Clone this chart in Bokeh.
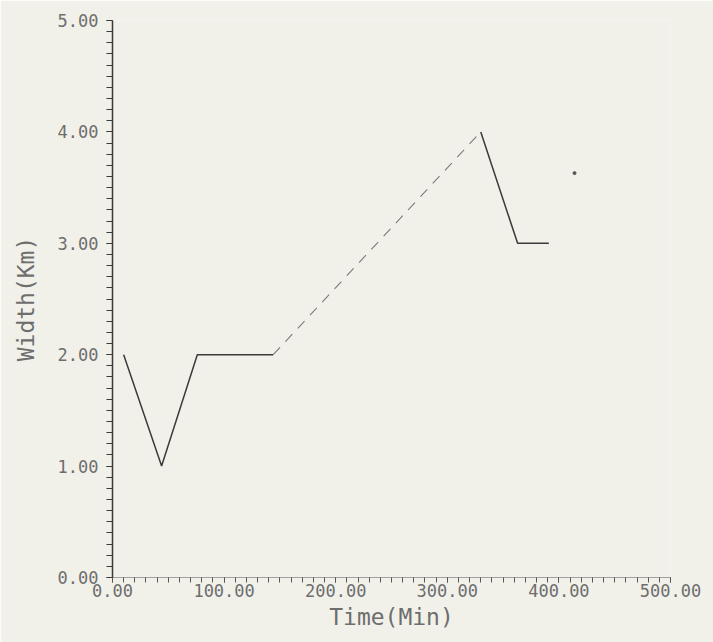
from bokeh.plotting import figure
from bokeh.models import SingleIntervalTicker, PrintfTickFormatter, Range1d
from bokeh.embed import file_html
from bokeh.resources import INLINE

# Channel width over time
time_min = [10, 44, 76, 144, 330, 363, 391]
width_km = [2.0, 1.0, 2.0, 2.0, 4.0, 3.0, 3.0]

# Isolated point
extra_time = [414]
extra_width = [3.63]

BG = "#f1f1ea"
INK = "#3a3a3a"
LABEL = "#6e6e6e"
FONT = "DejaVu Sans Mono"

p = figure(
    width=713, height=642,
    x_range=Range1d(0, 500), y_range=Range1d(0, 5),
    output_backend="svg", toolbar_location=None,
    min_border_left=112, min_border_right=43,
    min_border_top=20, min_border_bottom=65,
    background_fill_color=BG, border_fill_color=BG,
)
p.outline_line_color = None
p.grid.visible = False

# Solid early segment, faint dashed rise, solid later segment
p.line(time_min[:4], width_km[:4], line_color=INK, line_width=1.5)
p.line(time_min[3:5], width_km[3:5], line_color="#7a7a7a", line_width=1.1, line_dash="10 8")
p.line(time_min[4:], width_km[4:], line_color=INK, line_width=1.5)
p.scatter(extra_time, extra_width, size=3, color="#555555")

# Axes
p.xaxis.ticker = SingleIntervalTicker(interval=100, num_minor_ticks=10)
p.yaxis.ticker = SingleIntervalTicker(interval=1, num_minor_ticks=10)
p.xaxis.formatter = PrintfTickFormatter(format="%.2f")
p.yaxis.formatter = PrintfTickFormatter(format="%.2f")

for ax in (p.xaxis[0], p.yaxis[0]):
    ax.major_tick_in = 0
    ax.minor_tick_in = 0
    ax.major_label_text_font = FONT
    ax.major_label_text_font_size = "17px"
    ax.major_label_text_color = LABEL
    ax.axis_label_text_font = FONT
    ax.axis_label_text_font_style = "normal"
    ax.axis_label_text_color = LABEL
    ax.axis_label_text_font_size = "23px"

p.yaxis.major_tick_out = 6
p.yaxis.minor_tick_out = 6
p.yaxis.axis_line_color = INK
p.yaxis.axis_line_width = 1.5
p.yaxis.major_tick_line_color = INK
p.yaxis.minor_tick_line_color = INK
p.yaxis.major_label_standoff = 8
p.yaxis.axis_label = "Width(Km)"
p.yaxis.axis_label_standoff = 16

p.xaxis.major_tick_out = 5
p.xaxis.minor_tick_out = 5
p.xaxis.axis_line_color = "#a0a0a0"
p.xaxis.axis_line_width = 1
p.xaxis.major_tick_line_color = "#555555"
p.xaxis.minor_tick_line_color = "#555555"
p.xaxis.major_label_standoff = 1
p.xaxis.axis_label = "Time(Min)"
p.xaxis.axis_label_standoff = 4

open("out.html", "w").write(file_html(p, INLINE))
